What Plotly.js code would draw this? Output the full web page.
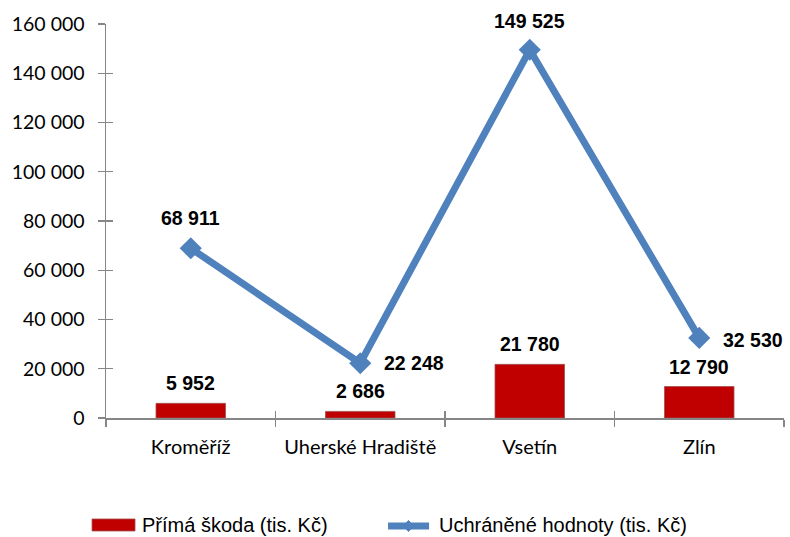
<!DOCTYPE html>
<html><head><meta charset="utf-8">
<script src="https://cdn.plot.ly/plotly-3.0.1.min.js"></script>
<style>body{margin:0;background:#fff}#c{width:790px;height:537px}</style>
</head><body><div id="c"></div>
<script>
const categories = ["Kroměříž", "Uherské Hradiště", "Vsetín", "Zlín"];
const primaSkoda = [5952, 2686, 21780, 12790];
const uchranene = [68911, 22248, 149525, 32530];
const yTickVals = [0, 20000, 40000, 60000, 80000, 100000, 120000, 140000, 160000];
const seriesNames = ["Přímá škoda (tis. Kč)", "Uchráněné hodnoty (tis. Kč)"];

const fmt = v => String(v).replace(/\B(?=(\d{3})+(?!\d))/g, " ");
const yTickText = yTickVals.map(fmt);

const RED = "#c00000", BLUE = "#4f81bd";

const barTrace = {
  type: "bar", x: categories, y: primaSkoda, name: seriesNames[0],
  marker: {color: RED, line: {color: "#a05050", width: 0.8}},
  width: 0.41, hoverinfo: "none", showlegend: false
};
const lineTrace = {
  type: "scatter", mode: "lines+markers", x: categories, y: uchranene,
  name: seriesNames[1],
  line: {color: BLUE, width: 7},
  marker: {symbol: "diamond", size: 17, color: BLUE},
  hoverinfo: "none", showlegend: false
};
const dummy = {type: "scatter", x: categories, y: [null,null,null,null], xaxis: "x2", yaxis: "y2", showlegend: false, hoverinfo: "none"};

const lblFont = {family: "Liberation Sans, Arial", size: 19.5, color: "#000", weight: "bold"};
const annotations = [];
primaSkoda.forEach((v, i) => annotations.push({
  x: categories[i], y: v, text: "<b>" + fmt(v) + "</b>", showarrow: false,
  yanchor: "middle", yshift: 20, font: lblFont
}));
const linePos = [{xs: 0, ys: 30}, {xs: 54, ys: 0}, {xs: 0, ys: 29}, {xs: 54, ys: -2}];
uchranene.forEach((v, i) => annotations.push({
  x: categories[i], y: v, text: "<b>" + fmt(v) + "</b>", showarrow: false,
  yanchor: "middle", xshift: linePos[i].xs, yshift: linePos[i].ys, font: lblFont
}));

// custom legend (paper coordinates)
const legFont = {family: "Liberation Sans, Arial", size: 20, color: "#000"};
annotations.push({xref: "paper", yref: "paper", x: 0.0501, y: -0.2716, xanchor: "left", yanchor: "middle",
  text: seriesNames[0], showarrow: false, font: legFont});
annotations.push({xref: "paper", yref: "paper", x: 0.4882, y: -0.2716, xanchor: "left", yanchor: "middle",
  text: seriesNames[1], showarrow: false, font: legFont});
const dx = 5 / 678, dy = 5.5 / 394, cx = 0.4462, cy = -0.2741;
const shapes = [
  {type: "rect", xref: "paper", yref: "paper", x0: -0.0206, x1: 0.0428, y0: -0.2563, y1: -0.2868,
    fillcolor: RED, line: {color: "#a05050", width: 0.8}},
  {type: "line", xref: "paper", yref: "paper", x0: 0.4160, x1: 0.4765, y0: cy, y1: cy,
    line: {color: BLUE, width: 7}},
  {type: "path", xref: "paper", yref: "paper",
    path: `M ${cx - dx},${cy} L ${cx},${cy + dy} L ${cx + dx},${cy} L ${cx},${cy - dy} Z`,
    fillcolor: BLUE, line: {color: BLUE, width: 1}}
];

const yTickFont = {family: "Lato, Open Sans, sans-serif", size: 19.5, color: "#000"};
const xTickFont = {family: "Lato, Open Sans, sans-serif", size: 20, color: "#000"};
const layout = {
  width: 790, height: 537,
  margin: {l: 106, r: 6, t: 24, b: 119},
  paper_bgcolor: "#fff", plot_bgcolor: "#fff",
  showlegend: false,
  xaxis: {type: "category", showline: true, linecolor: "#868686", linewidth: 1.5,
    ticks: "outside", ticklen: 7, tickcolor: "#868686", tickwidth: 1.3,
    tickson: "boundaries", showgrid: false, zeroline: false, tickfont: xTickFont,
    range: [-0.5, 3.5], automargin: false, ticklabelstandoff: 10},
  yaxis: {range: [0, 160000], tickvals: yTickVals, ticktext: yTickText,
    showline: true, linecolor: "#868686", linewidth: 1.5, ticks: "outside",
    ticklen: 7, tickcolor: "#868686", tickwidth: 1.3, showgrid: false,
    zeroline: false, tickfont: yTickFont, ticklabelstandoff: 9, automargin: false},
  xaxis2: {type: "category", overlaying: "x", anchor: "y2", range: [-0.5, 3.5],
    ticks: "inside", ticklen: 7, tickcolor: "#868686", tickwidth: 1.3,
    tickson: "boundaries", showticklabels: false, showgrid: false, zeroline: false, showline: false},
  yaxis2: {overlaying: "y", anchor: "x2", range: [0, 160000], tickvals: yTickVals,
    ticks: "inside", ticklen: 7, tickcolor: "#868686", tickwidth: 1.3,
    showticklabels: false, showgrid: false, zeroline: false, showline: false},
  annotations: annotations,
  shapes: shapes
};
Plotly.newPlot("c", [barTrace, lineTrace, dummy], layout, {displayModeBar: false, staticPlot: true});
</script></body></html>
